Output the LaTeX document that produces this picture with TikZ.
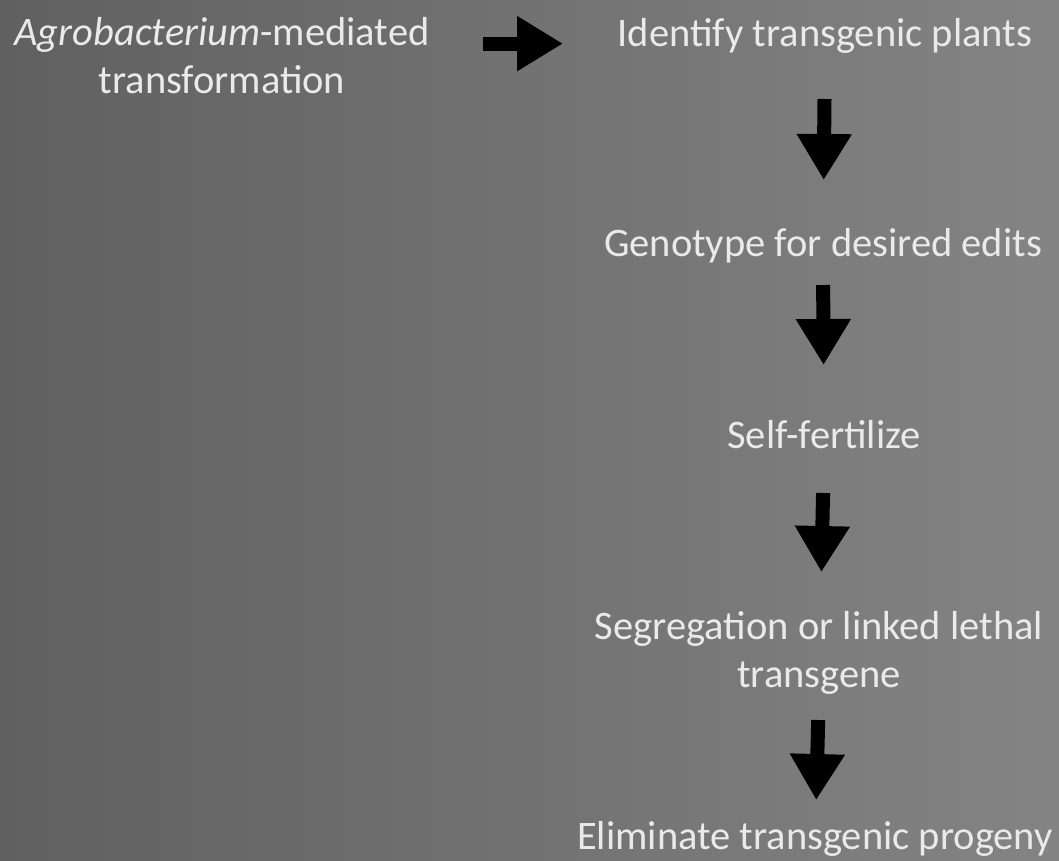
\documentclass[tikz,border=0pt]{standalone}
\usepackage{fontspec}
\setmainfont{Carlito}
\usetikzlibrary{arrows.meta}
\definecolor{bgleft}{RGB}{96,96,96}
\definecolor{bgright}{RGB}{132,132,132}
\definecolor{steptext}{RGB}{234,234,234}

\begin{document}
\begin{tikzpicture}[x=1pt,y=-1pt,
  steplabel/.style={text=steptext,font=\fontsize{40.5}{47.5}\selectfont,align=center,inner sep=0pt},
  blockarrow/.style={line width=14pt,-{Triangle[length=46pt,width=52pt]}}]
  % background
  \shade[left color=bgleft,right color=bgright] (0,0) rectangle (1059,860);
  \useasboundingbox (0,0) rectangle (1059,860);

  % steps (base = last line)
  \node[steplabel,anchor=base] (agro) at (222,93) {\textit{Agrobacterium}-mediated\\transformation};
  \node[steplabel,anchor=base] (ident) at (825,46) {Identify transgenic plants};
  \node[steplabel,anchor=base] (geno) at (823,256) {Genotype for desired edits};
  \node[steplabel,anchor=base] (self) at (824,448) {Self-fertilize};
  \node[steplabel,anchor=base] (segr) at (819,687) {Segregation or linked lethal\\transgene};
  \node[steplabel,anchor=base] (elim) at (815,849) {Eliminate transgenic progeny};

  % arrows
  \draw[blockarrow,shorten <=261pt,shorten >=262pt] (agro.mid |- ident.mid) -- (ident.mid);
  \draw[blockarrow,shorten <=53pt,shorten >=76pt] (ident.base) -- (geno.base);
  \draw[blockarrow,shorten <=29pt,shorten >=83pt] (geno.base) -- (self.base);
  \draw[blockarrow,shorten <=45pt,shorten >=115pt] (self.base) -- (segr.base);
  \draw[blockarrow,shorten <=33pt,shorten >=49pt] (segr.base) -- (elim.base);
\end{tikzpicture}
\end{document}
